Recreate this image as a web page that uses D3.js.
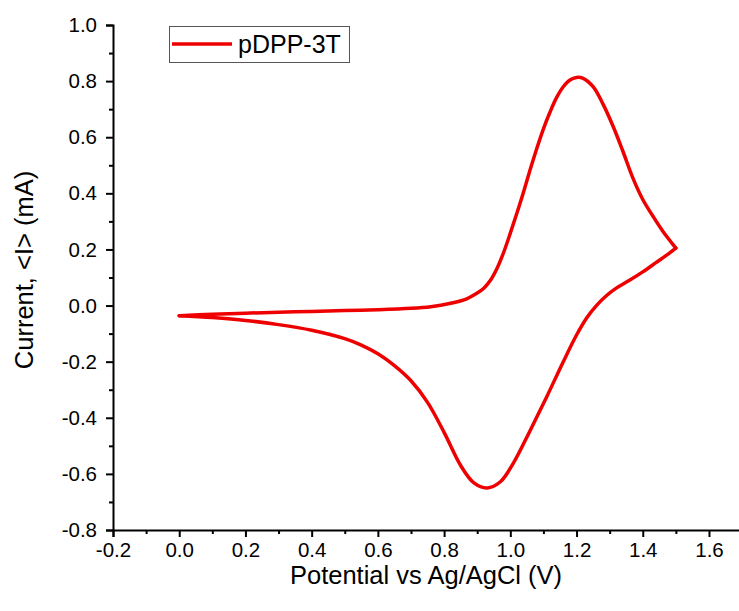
<!DOCTYPE html>
<html>
<head>
<meta charset="utf-8">
<script src="https://cdn.jsdelivr.net/npm/d3@7"></script>
<style>
  html, body { margin: 0; padding: 0; background: #fff; }
  svg { display: block; }
  text { font-family: "Liberation Sans", Arial, sans-serif; fill: #000; }
</style>
</head>
<body>
<svg id="chart" width="739" height="611"></svg>
<script>
// ---- Data ----
const seriesName = "pDPP-3T";
// Forward (anodic) scan
const fwdPotential = [0.00, 0.10, 0.20, 0.30, 0.40, 0.50, 0.60, 0.70, 0.76, 0.82, 0.86, 0.90, 0.92, 0.94, 0.96, 0.98, 1.00, 1.02, 1.04, 1.06, 1.08, 1.10, 1.12, 1.14, 1.16, 1.18, 1.20, 1.22, 1.25, 1.28, 1.31, 1.34, 1.37, 1.40, 1.43, 1.46, 1.50];
const fwdCurrent   = [-0.036, -0.031, -0.027, -0.024, -0.021, -0.018, -0.015, -0.010, -0.004, 0.008, 0.020, 0.045, 0.062, 0.090, 0.133, 0.190, 0.258, 0.330, 0.405, 0.485, 0.560, 0.630, 0.690, 0.742, 0.780, 0.804, 0.813, 0.810, 0.780, 0.718, 0.640, 0.550, 0.455, 0.378, 0.320, 0.266, 0.205];
// Reverse (cathodic) scan
const revPotential = [1.50, 1.47, 1.44, 1.40, 1.36, 1.32, 1.29, 1.26, 1.23, 1.20, 1.16, 1.11, 1.06, 1.01, 0.97, 0.93, 0.89, 0.85, 0.80, 0.75, 0.70, 0.65, 0.60, 0.55, 0.50, 0.40, 0.30, 0.20, 0.10, 0.00];
const revCurrent   = [0.205, 0.178, 0.153, 0.120, 0.090, 0.062, 0.035, 0.000, -0.045, -0.105, -0.200, -0.325, -0.445, -0.560, -0.628, -0.650, -0.632, -0.570, -0.452, -0.345, -0.268, -0.214, -0.172, -0.141, -0.118, -0.088, -0.068, -0.053, -0.043, -0.036];

const xMajorTicks = [-0.2, 0.0, 0.2, 0.4, 0.6, 0.8, 1.0, 1.2, 1.4, 1.6];
const yMajorTicks = [-0.8, -0.6, -0.4, -0.2, 0.0, 0.2, 0.4, 0.6, 0.8, 1.0];
const xTitle = "Potential vs Ag/AgCl (V)";
const yTitle = "Current, <I> (mA)";

// ---- Layout ----
const svg = d3.select("#chart");
const plotLeft = 113, plotBottom = 530, plotTop = 25;
const x = d3.scaleLinear().domain([-0.2, 1.7]).range([plotLeft, plotLeft + 1.9 * 331.1]);
const y = d3.scaleLinear().domain([-0.8, 1.0]).range([plotBottom, plotTop]);
const fmt = d => d.toFixed(1);  // hyphen-minus like the reference

const xMinor = d3.range(-2, 17, 1).map(d => d / 10).filter(d => !xMajorTicks.some(t => Math.abs(t - d) < 1e-9));
const yMinor = d3.range(-8, 10, 1).map(d => d / 10).filter(d => !yMajorTicks.some(t => Math.abs(t - d) < 1e-9));

// X axis
const gx = svg.append("g").attr("transform", `translate(0,${plotBottom})`);
gx.call(d3.axisBottom(x).tickValues(xMajorTicks).tickFormat(fmt).tickSizeOuter(0).tickSize(7).tickPadding(4));
gx.append("g").call(d3.axisBottom(x).tickValues(xMinor).tickFormat("").tickSizeOuter(0).tickSize(4))
  .select(".domain").remove();
// Y axis
const gy = svg.append("g").attr("transform", `translate(${plotLeft},0)`);
gy.call(d3.axisLeft(y).tickValues(yMajorTicks).tickFormat(fmt).tickSizeOuter(0).tickSize(7).tickPadding(9));
gy.append("g").call(d3.axisLeft(y).tickValues(yMinor).tickFormat("").tickSizeOuter(0).tickSize(4))
  .select(".domain").remove();

svg.selectAll(".domain").attr("stroke", "#000").attr("stroke-width", 2);
svg.selectAll(".tick line").attr("stroke", "#000").attr("stroke-width", 2);
svg.selectAll(".tick text").attr("font-size", 20.5).attr("font-family", "'Liberation Sans', Arial, sans-serif").attr("fill", "#111");
gx.selectAll(".tick text").attr("dy", "0.78em");

// Axis titles
svg.append("text").attr("x", 426).attr("y", 584).attr("text-anchor", "middle")
  .attr("font-size", 25.5).attr("fill", "#111").text(xTitle);
svg.append("text").attr("transform", "translate(33,270) rotate(-90)").attr("text-anchor", "middle")
  .attr("font-size", 25.5).attr("fill", "#111").text(yTitle);

// Curves
const line = d3.line().x(d => x(d[0])).y(d => y(d[1])).curve(d3.curveCatmullRom.alpha(0.5));
const fwd = fwdPotential.map((v, i) => [v, fwdCurrent[i]]);
const rev = revPotential.map((v, i) => [v, revCurrent[i]]);
[fwd, rev].forEach(data => {
  svg.append("path").datum(data).attr("d", line)
    .attr("fill", "none").attr("stroke", "#ee0000").attr("stroke-width", 3.5)
    .attr("stroke-linecap", "round").attr("stroke-linejoin", "round");
});

// Legend
const lg = svg.append("g");
lg.append("rect").attr("x", 169.5).attr("y", 26.5).attr("width", 180).attr("height", 36)
  .attr("fill", "#fff").attr("stroke", "#555").attr("stroke-width", 1);
lg.append("line").attr("x1", 172).attr("x2", 232).attr("y1", 44).attr("y2", 44)
  .attr("stroke", "#ee0000").attr("stroke-width", 3.5);
lg.append("text").attr("x", 238).attr("y", 53).attr("font-size", 25).attr("fill", "#111").text(seriesName);
</script>
</body>
</html>
